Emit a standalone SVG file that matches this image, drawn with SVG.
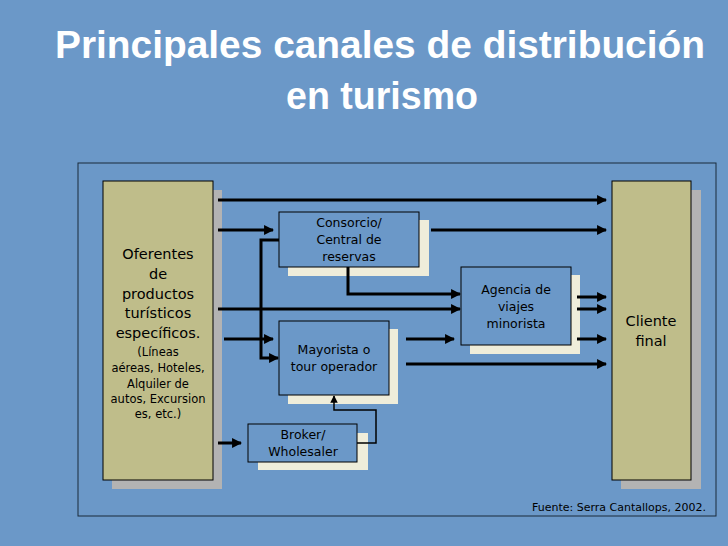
<svg xmlns="http://www.w3.org/2000/svg" width="728" height="546" viewBox="0 0 728 546">
<style>
.t{font-family:"DejaVu Sans",sans-serif;fill:#000;text-anchor:middle}
.m{font-size:12.5px}
.ln{stroke:#000;stroke-width:3;fill:none}
.lt{stroke:#000;stroke-width:1.5;fill:none}
.box{fill:#6b98c8;stroke:#000;stroke-width:1}
.sh{fill:#efedda}
</style>
<defs>
<marker id="a" viewBox="0 0 10 10" refX="9" refY="5" markerWidth="3.3" markerHeight="3.3" orient="auto"><path d="M0,0L10,5L0,10z" fill="#000"/></marker>
<marker id="b" viewBox="0 0 10 10" refX="9" refY="5" markerWidth="5" markerHeight="5" orient="auto"><path d="M0,0L10,5L0,10z" fill="#000"/></marker>
</defs>
<rect width="728" height="546" fill="#6b98c8"/>
<g font-family="Liberation Sans,sans-serif" font-weight="bold" fill="#fff" text-anchor="middle" font-size="38">
<text x="380" y="58" textLength="650" lengthAdjust="spacingAndGlyphs">Principales canales de distribución</text>
<text x="382" y="109" textLength="192" lengthAdjust="spacingAndGlyphs">en turismo</text>
</g>
<rect x="78" y="163" width="638" height="353" fill="none" stroke="#1a2a3a" stroke-width="1"/>
<g id="oferentes">
<rect x="112" y="190" width="110" height="299" fill="#b3b3b3"/>
<rect x="103" y="181" width="110" height="299" fill="#bfbd8a" stroke="#000"/>
<text class="t" font-size="14.5" x="158"><tspan x="158" y="259">Oferentes</tspan><tspan x="158" y="279">de</tspan><tspan x="158" y="299">productos</tspan><tspan x="158" y="318">turísticos</tspan><tspan x="158" y="338">específicos.</tspan></text>
<text class="t" font-size="11.5"><tspan x="158" y="356">(Líneas</tspan><tspan x="158" y="372">aéreas, Hoteles,</tspan><tspan x="158" y="388">Alquiler de</tspan><tspan x="158" y="403">autos, Excursion</tspan><tspan x="158" y="418">es, etc.)</tspan></text>
</g>
<g id="cliente">
<rect x="621" y="190" width="80" height="299" fill="#b3b3b3"/>
<rect x="612" y="181" width="79" height="299" fill="#bfbd8a" stroke="#000"/>
<text class="t" font-size="14.5"><tspan x="651" y="326">Cliente</tspan><tspan x="651" y="346">final</tspan></text>
</g>
<g id="consorcio">
<rect class="sh" x="288" y="220" width="141" height="56"/>
<rect class="box" x="279" y="212" width="140" height="55"/>
<text class="t m"><tspan x="349" y="227">Consorcio/</tspan><tspan x="349" y="244">Central de</tspan><tspan x="349" y="261">reservas</tspan></text>
</g>
<g id="agencia">
<rect class="sh" x="470" y="275" width="110" height="79"/>
<rect class="box" x="461" y="267" width="110" height="78"/>
<text class="t m"><tspan x="516" y="294">Agencia de</tspan><tspan x="516" y="311">viajes</tspan><tspan x="516" y="328">minorista</tspan></text>
</g>
<g id="mayorista">
<rect class="sh" x="288" y="329" width="110" height="75"/>
<rect class="box" x="279" y="321" width="110" height="74"/>
<text class="t m"><tspan x="334" y="354">Mayorista o</tspan><tspan x="334" y="371">tour operador</tspan></text>
</g>
<g id="broker">
<rect class="sh" x="258" y="433" width="110" height="37"/>
<rect class="box" x="248" y="424" width="109" height="38"/>
<text class="t m"><tspan x="303" y="439">Broker/</tspan><tspan x="303" y="456">Wholesaler</tspan></text>
</g>
<g id="connectors">
<path class="ln" marker-end="url(#a)" d="M218,200H606"/>
<path class="ln" marker-end="url(#a)" d="M218,230H273"/>
<path class="ln" marker-end="url(#a)" d="M431,230H606"/>
<path class="ln" marker-end="url(#a)" d="M279,240H261V358H278"/>
<path class="ln" marker-end="url(#a)" d="M224,339H273"/>
<path class="ln" marker-end="url(#a)" d="M348,267V294H460"/>
<path class="ln" marker-end="url(#a)" d="M218,309H460"/>
<path class="ln" marker-end="url(#a)" d="M406,339H454"/>
<path class="ln" marker-end="url(#a)" d="M406,364H606"/>
<path class="ln" marker-end="url(#a)" d="M577,297H606"/>
<path class="ln" marker-end="url(#a)" d="M577,309H606"/>
<path class="ln" marker-end="url(#a)" d="M577,339H606"/>
<path class="ln" marker-end="url(#a)" d="M218,443H241"/>
<path class="lt" marker-end="url(#b)" d="M357,443H376V410H334V396"/>
</g>
<text font-family="DejaVu Sans,sans-serif" font-size="11" x="706" y="511" text-anchor="end">Fuente: Serra Cantallops, 2002.</text>
</svg>
